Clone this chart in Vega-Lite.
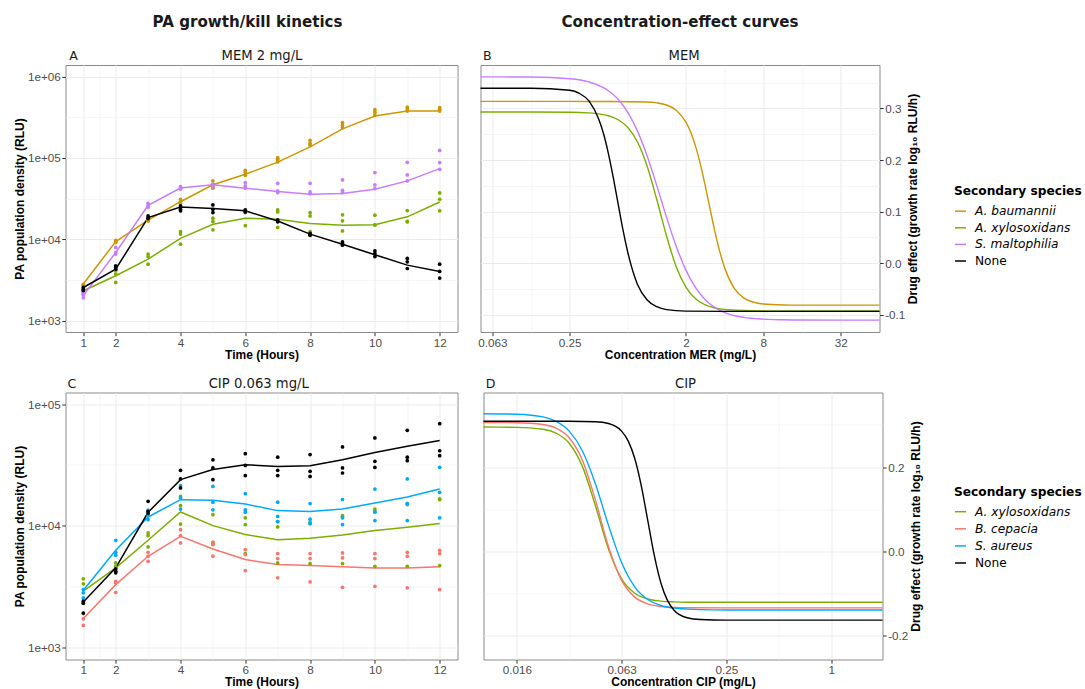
{
"$schema":"https://vega.github.io/schema/vega-lite/v6.json",
"background":"white",
"padding":{"left":12.5,"top":14,"right":0,"bottom":0},
"config":{
 "view":{"stroke":"#8A8A8A","strokeWidth":1},
 "axis":{"domain":false,"labelFont":"Liberation Sans","labelFontSize":11.7,"labelColor":"#4D4D4D","tickColor":"#333333","tickSize":3.7,"labelPadding":1.5,"titleFont":"Liberation Sans","titleFontSize":12,"titleFontWeight":"bold","titleColor":"#000000","gridColor":"#EBEBEB"},
 "title":{"font":"DejaVu Sans","fontSize":15.1,"fontWeight":"bold","color":"#1A1A1A"}
},
"datasets":{
"A_pts":[
{"t":1,"s":"A. baumannii","v":2800},{"t":1,"s":"A. baumannii","v":2690},{"t":1,"s":"A. baumannii","v":2750},
{"t":2,"s":"A. baumannii","v":9680},{"t":2,"s":"A. baumannii","v":9150},{"t":2,"s":"A. baumannii","v":9400},
{"t":3,"s":"A. baumannii","v":17600},{"t":3,"s":"A. baumannii","v":17200},{"t":3,"s":"A. baumannii","v":16800},
{"t":4,"s":"A. baumannii","v":31100},{"t":4,"s":"A. baumannii","v":29100},{"t":4,"s":"A. baumannii","v":27800},
{"t":5,"s":"A. baumannii","v":52300},{"t":5,"s":"A. baumannii","v":47500},{"t":5,"s":"A. baumannii","v":42500},
{"t":6,"s":"A. baumannii","v":70600},{"t":6,"s":"A. baumannii","v":66100},{"t":6,"s":"A. baumannii","v":61200},
{"t":7,"s":"A. baumannii","v":101000},{"t":7,"s":"A. baumannii","v":96400},{"t":7,"s":"A. baumannii","v":89400},
{"t":8,"s":"A. baumannii","v":165000},{"t":8,"s":"A. baumannii","v":151000},{"t":8,"s":"A. baumannii","v":143000},
{"t":9,"s":"A. baumannii","v":272000},{"t":9,"s":"A. baumannii","v":252000},{"t":9,"s":"A. baumannii","v":235000},
{"t":10,"s":"A. baumannii","v":392000},{"t":10,"s":"A. baumannii","v":366000},{"t":10,"s":"A. baumannii","v":337000},
{"t":11,"s":"A. baumannii","v":423000},{"t":11,"s":"A. baumannii","v":403000},{"t":11,"s":"A. baumannii","v":377000},
{"t":12,"s":"A. baumannii","v":415000},{"t":12,"s":"A. baumannii","v":396000},{"t":12,"s":"A. baumannii","v":377000},
{"t":1,"s":"A. xylosoxidans","v":2400},{"t":1,"s":"A. xylosoxidans","v":2270},{"t":1,"s":"A. xylosoxidans","v":2120},
{"t":2,"s":"A. xylosoxidans","v":4100},{"t":2,"s":"A. xylosoxidans","v":3740},{"t":2,"s":"A. xylosoxidans","v":2950},
{"t":3,"s":"A. xylosoxidans","v":6580},{"t":3,"s":"A. xylosoxidans","v":6150},{"t":3,"s":"A. xylosoxidans","v":4950},
{"t":4,"s":"A. xylosoxidans","v":12400},{"t":4,"s":"A. xylosoxidans","v":11600},{"t":4,"s":"A. xylosoxidans","v":8730},
{"t":5,"s":"A. xylosoxidans","v":18200},{"t":5,"s":"A. xylosoxidans","v":16600},{"t":5,"s":"A. xylosoxidans","v":13100},
{"t":6,"s":"A. xylosoxidans","v":22200},{"t":6,"s":"A. xylosoxidans","v":21300},{"t":6,"s":"A. xylosoxidans","v":14700},
{"t":7,"s":"A. xylosoxidans","v":23000},{"t":7,"s":"A. xylosoxidans","v":21700},{"t":7,"s":"A. xylosoxidans","v":14000},
{"t":8,"s":"A. xylosoxidans","v":21300},{"t":8,"s":"A. xylosoxidans","v":19400},{"t":8,"s":"A. xylosoxidans","v":12400},
{"t":9,"s":"A. xylosoxidans","v":20000},{"t":9,"s":"A. xylosoxidans","v":16900},{"t":9,"s":"A. xylosoxidans","v":12700},
{"t":10,"s":"A. xylosoxidans","v":19800},{"t":10,"s":"A. xylosoxidans","v":15100},{"t":10,"s":"A. xylosoxidans","v":15000},
{"t":11,"s":"A. xylosoxidans","v":22600},{"t":11,"s":"A. xylosoxidans","v":16400},{"t":11,"s":"A. xylosoxidans","v":16600},
{"t":12,"s":"A. xylosoxidans","v":37200},{"t":12,"s":"A. xylosoxidans","v":31100},{"t":12,"s":"A. xylosoxidans","v":22400},
{"t":1,"s":"S. maltophilia","v":2230},{"t":1,"s":"S. maltophilia","v":2070},{"t":1,"s":"S. maltophilia","v":1910},
{"t":2,"s":"S. maltophilia","v":7950},{"t":2,"s":"S. maltophilia","v":6890},{"t":2,"s":"S. maltophilia","v":6580},
{"t":3,"s":"S. maltophilia","v":27600},{"t":3,"s":"S. maltophilia","v":25800},{"t":3,"s":"S. maltophilia","v":24800},
{"t":4,"s":"S. maltophilia","v":44500},{"t":4,"s":"S. maltophilia","v":42500},{"t":4,"s":"S. maltophilia","v":41500},
{"t":5,"s":"S. maltophilia","v":47500},{"t":5,"s":"S. maltophilia","v":45300},{"t":5,"s":"S. maltophilia","v":44000},
{"t":6,"s":"S. maltophilia","v":49800},{"t":6,"s":"S. maltophilia","v":45300},{"t":6,"s":"S. maltophilia","v":42500},
{"t":7,"s":"S. maltophilia","v":48900},{"t":7,"s":"S. maltophilia","v":39400},{"t":7,"s":"S. maltophilia","v":37600},
{"t":8,"s":"S. maltophilia","v":48900},{"t":8,"s":"S. maltophilia","v":38200},{"t":8,"s":"S. maltophilia","v":36400},
{"t":9,"s":"S. maltophilia","v":53700},{"t":9,"s":"S. maltophilia","v":40100},{"t":9,"s":"S. maltophilia","v":37600},
{"t":10,"s":"S. maltophilia","v":66100},{"t":10,"s":"S. maltophilia","v":46700},{"t":10,"s":"S. maltophilia","v":42100},
{"t":11,"s":"S. maltophilia","v":88500},{"t":11,"s":"S. maltophilia","v":61800},{"t":11,"s":"S. maltophilia","v":52300},
{"t":12,"s":"S. maltophilia","v":124000},{"t":12,"s":"S. maltophilia","v":87700},{"t":12,"s":"S. maltophilia","v":72600},
{"t":1,"s":"None","v":2560},{"t":1,"s":"None","v":2450},{"t":1,"s":"None","v":2350},
{"t":2,"s":"None","v":4730},{"t":2,"s":"None","v":4510},{"t":2,"s":"None","v":4300},
{"t":3,"s":"None","v":19400},{"t":3,"s":"None","v":18500},{"t":3,"s":"None","v":18000},
{"t":4,"s":"None","v":25800},{"t":4,"s":"None","v":23400},{"t":4,"s":"None","v":22400},
{"t":5,"s":"None","v":26500},{"t":5,"s":"None","v":23400},{"t":5,"s":"None","v":21300},
{"t":6,"s":"None","v":23000},{"t":6,"s":"None","v":21700},{"t":6,"s":"None","v":22500},
{"t":7,"s":"None","v":17300},{"t":7,"s":"None","v":16400},{"t":7,"s":"None","v":16800},
{"t":8,"s":"None","v":11800},{"t":8,"s":"None","v":11200},{"t":8,"s":"None","v":11500},
{"t":9,"s":"None","v":9310},{"t":9,"s":"None","v":8890},{"t":9,"s":"None","v":8480},
{"t":10,"s":"None","v":7230},{"t":10,"s":"None","v":6700},{"t":10,"s":"None","v":6150},
{"t":11,"s":"None","v":5820},{"t":11,"s":"None","v":5300},{"t":11,"s":"None","v":4380},
{"t":12,"s":"None","v":4950},{"t":12,"s":"None","v":4030},{"t":12,"s":"None","v":3340}
],
"A_line":[
{"t":1,"s":"A. baumannii","v":2820},{"t":2,"s":"A. baumannii","v":9400},{"t":3,"s":"A. baumannii","v":17200},{"t":4,"s":"A. baumannii","v":29000},{"t":5,"s":"A. baumannii","v":46800},{"t":6,"s":"A. baumannii","v":63000},{"t":7,"s":"A. baumannii","v":89000},{"t":8,"s":"A. baumannii","v":137000},{"t":9,"s":"A. baumannii","v":228000},{"t":10,"s":"A. baumannii","v":328000},{"t":11,"s":"A. baumannii","v":377000},{"t":12,"s":"A. baumannii","v":377000},
{"t":1,"s":"A. xylosoxidans","v":2330},{"t":2,"s":"A. xylosoxidans","v":3570},{"t":3,"s":"A. xylosoxidans","v":5710},{"t":4,"s":"A. xylosoxidans","v":10300},{"t":5,"s":"A. xylosoxidans","v":15300},{"t":6,"s":"A. xylosoxidans","v":18200},{"t":7,"s":"A. xylosoxidans","v":17700},{"t":8,"s":"A. xylosoxidans","v":15700},{"t":9,"s":"A. xylosoxidans","v":14900},{"t":10,"s":"A. xylosoxidans","v":15100},{"t":11,"s":"A. xylosoxidans","v":18900},{"t":12,"s":"A. xylosoxidans","v":28800},
{"t":1,"s":"S. maltophilia","v":2030},{"t":2,"s":"S. maltophilia","v":6890},{"t":3,"s":"S. maltophilia","v":26200},{"t":4,"s":"S. maltophilia","v":42700},{"t":5,"s":"S. maltophilia","v":46800},{"t":6,"s":"S. maltophilia","v":42500},{"t":7,"s":"S. maltophilia","v":38800},{"t":8,"s":"S. maltophilia","v":35800},{"t":9,"s":"S. maltophilia","v":36700},{"t":10,"s":"S. maltophilia","v":41300},{"t":11,"s":"S. maltophilia","v":52300},{"t":12,"s":"S. maltophilia","v":74000},
{"t":1,"s":"None","v":2560},{"t":2,"s":"None","v":4300},{"t":3,"s":"None","v":18500},{"t":4,"s":"None","v":25000},{"t":5,"s":"None","v":24000},{"t":6,"s":"None","v":22400},{"t":7,"s":"None","v":16800},{"t":8,"s":"None","v":11600},{"t":9,"s":"None","v":8720},{"t":10,"s":"None","v":6450},{"t":11,"s":"None","v":4820},{"t":12,"s":"None","v":4030}
],
"B_crv":[
{"c":0.0506,"s":"A. baumannii","e":0.3135},{"c":0.25,"s":"A. baumannii","e":0.3135},{"c":0.5,"s":"A. baumannii","e":0.3133},{"c":1,"s":"A. baumannii","e":0.3124},{"c":1.1892,"s":"A. baumannii","e":0.3107},{"c":1.4142,"s":"A. baumannii","e":0.3065},{"c":1.6818,"s":"A. baumannii","e":0.2965},{"c":2,"s":"A. baumannii","e":0.2735},{"c":2.181,"s":"A. baumannii","e":0.2537},{"c":2.3784,"s":"A. baumannii","e":0.2265},{"c":2.594,"s":"A. baumannii","e":0.1916},{"c":2.8284,"s":"A. baumannii","e":0.1499},{"c":3.084,"s":"A. baumannii","e":0.105},{"c":3.3636,"s":"A. baumannii","e":0.0612},{"c":3.668,"s":"A. baumannii","e":0.0225},{"c":4,"s":"A. baumannii","e":-0.0085},{"c":4.7568,"s":"A. baumannii","e":-0.0485},{"c":5.6569,"s":"A. baumannii","e":-0.0674},{"c":6.7272,"s":"A. baumannii","e":-0.0754},{"c":8,"s":"A. baumannii","e":-0.0787},{"c":11.314,"s":"A. baumannii","e":-0.0806},{"c":16,"s":"A. baumannii","e":-0.081},{"c":64,"s":"A. baumannii","e":-0.081},
{"c":0.0506,"s":"A. xylosoxidans","e":0.293},{"c":0.25,"s":"A. xylosoxidans","e":0.2926},{"c":0.3536,"s":"A. xylosoxidans","e":0.2913},{"c":0.5,"s":"A. xylosoxidans","e":0.2858},{"c":0.5946,"s":"A. xylosoxidans","e":0.278},{"c":0.7071,"s":"A. xylosoxidans","e":0.263},{"c":0.8409,"s":"A. xylosoxidans","e":0.235},{"c":1,"s":"A. xylosoxidans","e":0.188},{"c":1.1892,"s":"A. xylosoxidans","e":0.123},{"c":1.4142,"s":"A. xylosoxidans","e":0.053},{"c":1.6818,"s":"A. xylosoxidans","e":-0.0065},{"c":2,"s":"A. xylosoxidans","e":-0.046},{"c":2.3784,"s":"A. xylosoxidans","e":-0.0687},{"c":2.8284,"s":"A. xylosoxidans","e":-0.0806},{"c":3.3636,"s":"A. xylosoxidans","e":-0.0865},{"c":4,"s":"A. xylosoxidans","e":-0.0893},{"c":5.6569,"s":"A. xylosoxidans","e":-0.0914},{"c":8,"s":"A. xylosoxidans","e":-0.092},{"c":64,"s":"A. xylosoxidans","e":-0.092},
{"c":0.0506,"s":"S. maltophilia","e":0.361},{"c":0.125,"s":"S. maltophilia","e":0.3607},{"c":0.25,"s":"S. maltophilia","e":0.3575},{"c":0.3536,"s":"S. maltophilia","e":0.3512},{"c":0.5,"s":"S. maltophilia","e":0.3342},{"c":0.5946,"s":"S. maltophilia","e":0.3176},{"c":0.7071,"s":"S. maltophilia","e":0.2923},{"c":0.8409,"s":"S. maltophilia","e":0.2559},{"c":1,"s":"S. maltophilia","e":0.2076},{"c":1.1892,"s":"S. maltophilia","e":0.1499},{"c":1.4142,"s":"S. maltophilia","e":0.089},{"c":1.6818,"s":"S. maltophilia","e":0.0329},{"c":2,"s":"S. maltophilia","e":-0.0132},{"c":2.3784,"s":"S. maltophilia","e":-0.0472},{"c":2.8284,"s":"S. maltophilia","e":-0.0705},{"c":3.3636,"s":"S. maltophilia","e":-0.0857},{"c":4,"s":"S. maltophilia","e":-0.0953},{"c":5.6569,"s":"S. maltophilia","e":-0.1047},{"c":8,"s":"S. maltophilia","e":-0.1081},{"c":11.314,"s":"S. maltophilia","e":-0.1093},{"c":16,"s":"S. maltophilia","e":-0.1098},{"c":64,"s":"S. maltophilia","e":-0.11},
{"c":0.0506,"s":"None","e":0.339},{"c":0.125,"s":"None","e":0.339},{"c":0.25,"s":"None","e":0.335},{"c":0.2973,"s":"None","e":0.329},{"c":0.3536,"s":"None","e":0.314},{"c":0.4204,"s":"None","e":0.279},{"c":0.4585,"s":"None","e":0.2503},{"c":0.5,"s":"None","e":0.212},{"c":0.5453,"s":"None","e":0.1657},{"c":0.5946,"s":"None","e":0.115},{"c":0.6484,"s":"None","e":0.0647},{"c":0.7071,"s":"None","e":0.021},{"c":0.8409,"s":"None","e":-0.041},{"c":1,"s":"None","e":-0.071},{"c":1.1892,"s":"None","e":-0.084},{"c":1.4142,"s":"None","e":-0.0896},{"c":2,"s":"None","e":-0.0926},{"c":4,"s":"None","e":-0.093},{"c":64,"s":"None","e":-0.093}
],
"C_pts":[
{"t":1,"s":"A. xylosoxidans","v":3650},{"t":1,"s":"A. xylosoxidans","v":3320},{"t":1,"s":"A. xylosoxidans","v":2290},
{"t":2,"s":"A. xylosoxidans","v":4930},{"t":2,"s":"A. xylosoxidans","v":4630},{"t":2,"s":"A. xylosoxidans","v":4500},
{"t":3,"s":"A. xylosoxidans","v":8700},{"t":3,"s":"A. xylosoxidans","v":8280},{"t":3,"s":"A. xylosoxidans","v":6680},
{"t":4,"s":"A. xylosoxidans","v":17400},{"t":4,"s":"A. xylosoxidans","v":14600},{"t":4,"s":"A. xylosoxidans","v":10300},
{"t":5,"s":"A. xylosoxidans","v":12300},{"t":5,"s":"A. xylosoxidans","v":7290},{"t":5,"s":"A. xylosoxidans","v":6980},
{"t":6,"s":"A. xylosoxidans","v":11600},{"t":6,"s":"A. xylosoxidans","v":10200},{"t":6,"s":"A. xylosoxidans","v":5890},
{"t":7,"s":"A. xylosoxidans","v":10800},{"t":7,"s":"A. xylosoxidans","v":9750},{"t":7,"s":"A. xylosoxidans","v":4930},
{"t":8,"s":"A. xylosoxidans","v":10700},{"t":8,"s":"A. xylosoxidans","v":10400},{"t":8,"s":"A. xylosoxidans","v":4880},
{"t":9,"s":"A. xylosoxidans","v":12100},{"t":9,"s":"A. xylosoxidans","v":11800},{"t":9,"s":"A. xylosoxidans","v":4880},
{"t":10,"s":"A. xylosoxidans","v":13700},{"t":10,"s":"A. xylosoxidans","v":13100},{"t":10,"s":"A. xylosoxidans","v":4630},
{"t":11,"s":"A. xylosoxidans","v":15200},{"t":11,"s":"A. xylosoxidans","v":14900},{"t":11,"s":"A. xylosoxidans","v":4630},
{"t":12,"s":"A. xylosoxidans","v":16600},{"t":12,"s":"A. xylosoxidans","v":16400},{"t":12,"s":"A. xylosoxidans","v":4690},
{"t":1,"s":"B. cepacia","v":1890},{"t":1,"s":"B. cepacia","v":1710},{"t":1,"s":"B. cepacia","v":1510},
{"t":2,"s":"B. cepacia","v":3480},{"t":2,"s":"B. cepacia","v":3380},{"t":2,"s":"B. cepacia","v":2830},
{"t":3,"s":"B. cepacia","v":6040},{"t":3,"s":"B. cepacia","v":5600},{"t":3,"s":"B. cepacia","v":5090},
{"t":4,"s":"B. cepacia","v":9270},{"t":4,"s":"B. cepacia","v":8280},{"t":4,"s":"B. cepacia","v":7210},
{"t":5,"s":"B. cepacia","v":7290},{"t":5,"s":"B. cepacia","v":7110},{"t":5,"s":"B. cepacia","v":5600},
{"t":6,"s":"B. cepacia","v":6350},{"t":6,"s":"B. cepacia","v":5780},{"t":6,"s":"B. cepacia","v":4270},
{"t":7,"s":"B. cepacia","v":5890},{"t":7,"s":"B. cepacia","v":5360},{"t":7,"s":"B. cepacia","v":3720},
{"t":8,"s":"B. cepacia","v":5890},{"t":8,"s":"B. cepacia","v":5360},{"t":8,"s":"B. cepacia","v":3440},
{"t":9,"s":"B. cepacia","v":5960},{"t":9,"s":"B. cepacia","v":5420},{"t":9,"s":"B. cepacia","v":3110},
{"t":10,"s":"B. cepacia","v":5890},{"t":10,"s":"B. cepacia","v":5360},{"t":10,"s":"B. cepacia","v":3170},
{"t":11,"s":"B. cepacia","v":6040},{"t":11,"s":"B. cepacia","v":5600},{"t":11,"s":"B. cepacia","v":3080},
{"t":12,"s":"B. cepacia","v":6270},{"t":12,"s":"B. cepacia","v":5890},{"t":12,"s":"B. cepacia","v":2980},
{"t":1,"s":"S. aureus","v":2980},{"t":1,"s":"S. aureus","v":2800},{"t":1,"s":"S. aureus","v":2540},
{"t":2,"s":"S. aureus","v":7570},{"t":2,"s":"S. aureus","v":6040},{"t":2,"s":"S. aureus","v":5710},
{"t":3,"s":"S. aureus","v":13400},{"t":3,"s":"S. aureus","v":12300},{"t":3,"s":"S. aureus","v":11200},
{"t":4,"s":"S. aureus","v":21300},{"t":4,"s":"S. aureus","v":16900},{"t":4,"s":"S. aureus","v":13700},
{"t":5,"s":"S. aureus","v":21000},{"t":5,"s":"S. aureus","v":15600},{"t":5,"s":"S. aureus","v":13500},
{"t":6,"s":"S. aureus","v":18300},{"t":6,"s":"S. aureus","v":13500},{"t":6,"s":"S. aureus","v":12900},
{"t":7,"s":"S. aureus","v":15600},{"t":7,"s":"S. aureus","v":11900},{"t":7,"s":"S. aureus","v":10800},
{"t":8,"s":"S. aureus","v":15200},{"t":8,"s":"S. aureus","v":11300},{"t":8,"s":"S. aureus","v":10400},
{"t":9,"s":"S. aureus","v":16400},{"t":9,"s":"S. aureus","v":11600},{"t":9,"s":"S. aureus","v":10200},
{"t":10,"s":"S. aureus","v":20000},{"t":10,"s":"S. aureus","v":12900},{"t":10,"s":"S. aureus","v":11000},
{"t":11,"s":"S. aureus","v":24200},{"t":11,"s":"S. aureus","v":15200},{"t":11,"s":"S. aureus","v":11000},
{"t":12,"s":"S. aureus","v":30200},{"t":12,"s":"S. aureus","v":18800},{"t":12,"s":"S. aureus","v":11600},
{"t":1,"s":"None","v":2390},{"t":1,"s":"None","v":1910},{"t":1,"s":"None","v":2300},
{"t":2,"s":"None","v":4220},{"t":2,"s":"None","v":4090},{"t":2,"s":"None","v":4400},
{"t":3,"s":"None","v":15850},{"t":3,"s":"None","v":13100},{"t":3,"s":"None","v":12700},
{"t":4,"s":"None","v":28500},{"t":4,"s":"None","v":24200},{"t":4,"s":"None","v":20400},
{"t":5,"s":"None","v":34800},{"t":5,"s":"None","v":29800},{"t":5,"s":"None","v":23900},
{"t":6,"s":"None","v":39100},{"t":6,"s":"None","v":31300},{"t":6,"s":"None","v":25800},
{"t":7,"s":"None","v":36600},{"t":7,"s":"None","v":28500},{"t":7,"s":"None","v":25800},
{"t":8,"s":"None","v":38400},{"t":8,"s":"None","v":28000},{"t":8,"s":"None","v":25400},
{"t":9,"s":"None","v":44400},{"t":9,"s":"None","v":29800},{"t":9,"s":"None","v":27100},
{"t":10,"s":"None","v":52600},{"t":10,"s":"None","v":33800},{"t":10,"s":"None","v":30100},
{"t":11,"s":"None","v":60800},{"t":11,"s":"None","v":36600},{"t":11,"s":"None","v":34200},
{"t":12,"s":"None","v":68900},{"t":12,"s":"None","v":41300},{"t":12,"s":"None","v":37600}
],
"C_line":[
{"t":1,"s":"A. xylosoxidans","v":2890},{"t":2,"s":"A. xylosoxidans","v":4490},{"t":3,"s":"A. xylosoxidans","v":7580},{"t":4,"s":"A. xylosoxidans","v":12950},{"t":5,"s":"A. xylosoxidans","v":10000},{"t":6,"s":"A. xylosoxidans","v":8440},{"t":7,"s":"A. xylosoxidans","v":7670},{"t":8,"s":"A. xylosoxidans","v":7870},{"t":9,"s":"A. xylosoxidans","v":8380},{"t":10,"s":"A. xylosoxidans","v":9100},{"t":11,"s":"A. xylosoxidans","v":9690},{"t":12,"s":"A. xylosoxidans","v":10400},
{"t":1,"s":"B. cepacia","v":1720},{"t":2,"s":"B. cepacia","v":3270},{"t":3,"s":"B. cepacia","v":5600},{"t":4,"s":"B. cepacia","v":8170},{"t":5,"s":"B. cepacia","v":6430},{"t":6,"s":"B. cepacia","v":5260},{"t":7,"s":"B. cepacia","v":4780},{"t":8,"s":"B. cepacia","v":4690},{"t":9,"s":"B. cepacia","v":4580},{"t":10,"s":"B. cepacia","v":4490},{"t":11,"s":"B. cepacia","v":4490},{"t":12,"s":"B. cepacia","v":4580},
{"t":1,"s":"S. aureus","v":2940},{"t":2,"s":"S. aureus","v":6270},{"t":3,"s":"S. aureus","v":11780},{"t":4,"s":"S. aureus","v":16350},{"t":5,"s":"S. aureus","v":16150},{"t":6,"s":"S. aureus","v":15060},{"t":7,"s":"S. aureus","v":13290},{"t":8,"s":"S. aureus","v":13040},{"t":9,"s":"S. aureus","v":13700},{"t":10,"s":"S. aureus","v":15350},{"t":11,"s":"S. aureus","v":17200},{"t":12,"s":"S. aureus","v":20000},
{"t":1,"s":"None","v":2350},{"t":2,"s":"None","v":4500},{"t":3,"s":"None","v":12870},{"t":4,"s":"None","v":23900},{"t":5,"s":"None","v":28900},{"t":6,"s":"None","v":31700},{"t":7,"s":"None","v":30700},{"t":8,"s":"None","v":31100},{"t":9,"s":"None","v":34900},{"t":10,"s":"None","v":40000},{"t":11,"s":"None","v":44900},{"t":12,"s":"None","v":50200}
],
"D_crv":[
{"c":0.01006,"s":"A. xylosoxidans","e":0.295},{"c":0.015625,"s":"A. xylosoxidans","e":0.2943},{"c":0.0221,"s":"A. xylosoxidans","e":0.2898},{"c":0.02628,"s":"A. xylosoxidans","e":0.2806},{"c":0.03125,"s":"A. xylosoxidans","e":0.2566},{"c":0.03716,"s":"A. xylosoxidans","e":0.2021},{"c":0.04419,"s":"A. xylosoxidans","e":0.1083},{"c":0.05256,"s":"A. xylosoxidans","e":0.0048},{"c":0.0625,"s":"A. xylosoxidans","e":-0.0661},{"c":0.07433,"s":"A. xylosoxidans","e":-0.1001},{"c":0.08839,"s":"A. xylosoxidans","e":-0.1138},{"c":0.10511,"s":"A. xylosoxidans","e":-0.1188},{"c":0.125,"s":"A. xylosoxidans","e":-0.1207},{"c":0.14865,"s":"A. xylosoxidans","e":-0.1214},{"c":0.25,"s":"A. xylosoxidans","e":-0.1216},{"c":1.971,"s":"A. xylosoxidans","e":-0.1216},
{"c":0.01006,"s":"B. cepacia","e":0.306},{"c":0.015625,"s":"B. cepacia","e":0.3054},{"c":0.0221,"s":"B. cepacia","e":0.3011},{"c":0.02628,"s":"B. cepacia","e":0.2925},{"c":0.03125,"s":"B. cepacia","e":0.2697},{"c":0.03716,"s":"B. cepacia","e":0.2168},{"c":0.04419,"s":"B. cepacia","e":0.1218},{"c":0.05256,"s":"B. cepacia","e":0.0106},{"c":0.0625,"s":"B. cepacia","e":-0.0696},{"c":0.07433,"s":"B. cepacia","e":-0.1094},{"c":0.08839,"s":"B. cepacia","e":-0.1256},{"c":0.10511,"s":"B. cepacia","e":-0.1316},{"c":0.125,"s":"B. cepacia","e":-0.1338},{"c":0.14865,"s":"B. cepacia","e":-0.1345},{"c":0.25,"s":"B. cepacia","e":-0.135},{"c":1.971,"s":"B. cepacia","e":-0.135},
{"c":0.01006,"s":"S. aureus","e":0.3268},{"c":0.015625,"s":"S. aureus","e":0.3256},{"c":0.0221,"s":"S. aureus","e":0.3191},{"c":0.02628,"s":"S. aureus","e":0.3085},{"c":0.03125,"s":"S. aureus","e":0.2853},{"c":0.03716,"s":"S. aureus","e":0.2387},{"c":0.04419,"s":"S. aureus","e":0.1604},{"c":0.05256,"s":"S. aureus","e":0.0613},{"c":0.0625,"s":"S. aureus","e":-0.0271},{"c":0.07433,"s":"S. aureus","e":-0.0848},{"c":0.08839,"s":"S. aureus","e":-0.1151},{"c":0.10511,"s":"S. aureus","e":-0.1292},{"c":0.125,"s":"S. aureus","e":-0.1354},{"c":0.14865,"s":"S. aureus","e":-0.138},{"c":0.17678,"s":"S. aureus","e":-0.1392},{"c":0.25,"s":"S. aureus","e":-0.1399},{"c":1.971,"s":"S. aureus","e":-0.14},
{"c":0.01006,"s":"None","e":0.309},{"c":0.03125,"s":"None","e":0.309},{"c":0.04419,"s":"None","e":0.3077},{"c":0.05256,"s":"None","e":0.3034},{"c":0.0625,"s":"None","e":0.2854},{"c":0.06815,"s":"None","e":0.2622},{"c":0.07433,"s":"None","e":0.2208},{"c":0.08105,"s":"None","e":0.1559},{"c":0.08839,"s":"None","e":0.0725},{"c":0.09639,"s":"None","e":-0.0109},{"c":0.10511,"s":"None","e":-0.0758},{"c":0.11463,"s":"None","e":-0.1172},{"c":0.125,"s":"None","e":-0.1404},{"c":0.14865,"s":"None","e":-0.1584},{"c":0.17678,"s":"None","e":-0.1627},{"c":0.25,"s":"None","e":-0.164},{"c":1.971,"s":"None","e":-0.164}
]
},
"vconcat":[
{"hconcat":[
 {"width":392,"height":267,
  "title":{"text":"PA growth/kill kinetics","frame":"group","anchor":"middle","dx":-14,"offset":18},
  "layer":[
   {"data":{"name":"A_line"},"mark":{"type":"line","strokeWidth":1.5},
    "encoding":{
     "x":{"field":"t","type":"quantitative","scale":{"domain":[0.45,12.55],"nice":false,"zero":false},
      "axis":{"orient":"bottom","title":"Time (Hours)","values":[1,1.5,2,3,4,5,6,7,8,9,10,11,12],"labelExpr":"(datum.value==1||datum.value%2==0)?''+datum.value:''","tickOpacity":{"condition":{"test":"datum.value==1||datum.value%2==0","value":1},"value":0},"gridWidth":{"condition":{"test":"datum.value==1||datum.value%2==0","value":1},"value":0.5},"titlePadding":0.5,"labelFlush":false,"labelOverlap":false}},
     "y":{"field":"v","type":"quantitative","scale":{"type":"log","domain":[726,1390000],"nice":false},
      "axis":{"title":"PA population density (RLU)","values":[1000,3162.2777,10000,31622.777,100000,316227.77,1000000],"labelExpr":"abs(log(datum.value)/LN10-round(log(datum.value)/LN10))<0.01?'1e+0'+round(log(datum.value)/LN10):''","tickOpacity":{"condition":{"test":"abs(log(datum.value)/LN10-round(log(datum.value)/LN10))<0.01","value":1},"value":0},"gridWidth":{"condition":{"test":"abs(log(datum.value)/LN10-round(log(datum.value)/LN10))<0.01","value":1},"value":0.5},"titlePadding":1,"labelOverlap":false}},
     "color":{"field":"s","type":"nominal","scale":{"domain":["A. baumannii","A. xylosoxidans","S. maltophilia","None"],"range":["#CD9600","#7CAE00","#C77CFF","#000000"]},
      "legend":{"title":"Secondary species","orient":"none","legendX":888.5,"legendY":120,"titleFont":"DejaVu Sans","titleFontSize":12.2,"titleFontWeight":"bold","titleColor":"#000000","titlePadding":7.5,"labelFont":"DejaVu Sans","labelFontSize":12.2,"labelColor":"#000000","symbolType":"stroke","symbolSize":121,"symbolStrokeWidth":1.5,"labelOffset":8,"rowPadding":3.6,"encode":{"labels":{"update":{"fontStyle":{"signal":"datum.value == 'None' ? 'normal' : 'italic'"}}}}}}
    }},
   {"data":{"name":"A_pts"},"mark":{"type":"circle","size":14,"opacity":1},
    "encoding":{
     "x":{"field":"t","type":"quantitative",
      "axis":{"orient":"top","values":[0.553,6.5],"labelExpr":"datum.value<1?'A':'MEM 2 mg/L'","labelAlign":{"condition":{"test":"datum.value<1","value":"left"},"value":"center"},"labelFontSize":{"condition":{"test":"datum.value<1","value":12.6},"value":13.2},"labelFont":"DejaVu Sans","labelColor":"#1A1A1A","labelPadding":6,"labelBaseline":"alphabetic","ticks":false,"tickSize":0,"grid":false,"domain":false,"title":null,"labelFlush":false,"labelOverlap":false,"labelBound":false}},
     "y":{"field":"v","type":"quantitative",
      "axis":{"title":"PA population density (RLU)","values":[1000,3162.2777,10000,31622.777,100000,316227.77,1000000],"labelExpr":"abs(log(datum.value)/LN10-round(log(datum.value)/LN10))<0.01?'1e+0'+round(log(datum.value)/LN10):''","tickOpacity":{"condition":{"test":"abs(log(datum.value)/LN10-round(log(datum.value)/LN10))<0.01","value":1},"value":0},"gridWidth":{"condition":{"test":"abs(log(datum.value)/LN10-round(log(datum.value)/LN10))<0.01","value":1},"value":0.5},"titlePadding":1,"labelOverlap":false}},
     "color":{"field":"s","type":"nominal","scale":{"domain":["A. baumannii","A. xylosoxidans","S. maltophilia","None"],"range":["#CD9600","#7CAE00","#C77CFF","#000000"]},
      "legend":{"title":"Secondary species","orient":"none","legendX":888.5,"legendY":120,"titleFont":"DejaVu Sans","titleFontSize":12.2,"titleFontWeight":"bold","titleColor":"#000000","titlePadding":7.5,"labelFont":"DejaVu Sans","labelFontSize":12.2,"labelColor":"#000000","symbolType":"stroke","symbolSize":121,"symbolStrokeWidth":1.5,"labelOffset":8,"rowPadding":3.6,"encode":{"labels":{"update":{"fontStyle":{"signal":"datum.value == 'None' ? 'normal' : 'italic'"}}}}}}
    }}
  ],
  "resolve":{"axis":{"x":"independent"}}
 },
 {"width":399,"height":267,
  "title":{"text":"Concentration-effect curves","frame":"group","anchor":"middle","offset":18},
  "layer":[
   {"data":{"name":"B_crv"},"mark":{"type":"line","strokeWidth":1.4,"interpolate":"monotone"},
    "encoding":{
     "x":{"field":"c","type":"quantitative","scale":{"type":"log","base":2,"domain":[0.0506,64],"nice":false},
      "axis":{"orient":"bottom","title":"Concentration MER (mg/L)","values":[0.0625,0.125,0.25,0.70710678,2,4,8,16,32],"labelExpr":"datum.value==0.0625?'0.063':(datum.value==0.25||datum.value==2||datum.value==8||datum.value==32)?''+datum.value:''","tickOpacity":{"condition":{"test":"datum.value==0.0625||datum.value==0.25||datum.value==2||datum.value==8||datum.value==32","value":1},"value":0},"gridWidth":{"condition":{"test":"datum.value==0.0625||datum.value==0.25||datum.value==2||datum.value==8||datum.value==32","value":1},"value":0.5},"titlePadding":0.5,"labelFlush":false,"labelOverlap":false}},
     "y":{"field":"e","type":"quantitative","scale":{"domain":[-0.133,0.384],"nice":false,"zero":false},
      "axis":{"orient":"right","title":"Drug effect (growth rate log₁₀ RLU/h)","titleAngle":270,"titleBaseline":"top","values":[-0.1,-0.05,0,0.05,0.1,0.15,0.2,0.25,0.3,0.35],"labelExpr":"abs(datum.value*10-round(datum.value*10))<0.001?replace(format(datum.value,'.1f'),'−','-'):''","tickOpacity":{"condition":{"test":"abs(datum.value*10-round(datum.value*10))<0.001","value":1},"value":0},"gridWidth":{"condition":{"test":"abs(datum.value*10-round(datum.value*10))<0.001","value":1},"value":0.5},"titlePadding":3,"labelOverlap":false}},
     "color":{"field":"s","type":"nominal","scale":{"domain":["A. baumannii","A. xylosoxidans","S. maltophilia","None"],"range":["#CD9600","#7CAE00","#C77CFF","#000000"]},
      "legend":{"title":"Secondary species","orient":"none","legendX":888.5,"legendY":120,"titleFont":"DejaVu Sans","titleFontSize":12.2,"titleFontWeight":"bold","titleColor":"#000000","titlePadding":7.5,"labelFont":"DejaVu Sans","labelFontSize":12.2,"labelColor":"#000000","symbolType":"stroke","symbolSize":121,"symbolStrokeWidth":1.5,"labelOffset":8,"rowPadding":3.6,"encode":{"labels":{"update":{"fontStyle":{"signal":"datum.value == 'None' ? 'normal' : 'italic'"}}}}}}
    }},
   {"data":{"name":"B_crv"},"mark":{"type":"point","opacity":0},
    "encoding":{
     "x":{"field":"c","type":"quantitative",
      "axis":{"orient":"top","values":[0.0525,1.92],"labelExpr":"datum.value<0.1?'B':'MEM'","labelAlign":{"condition":{"test":"datum.value<0.1","value":"left"},"value":"center"},"labelFontSize":{"condition":{"test":"datum.value<0.1","value":12.6},"value":13.2},"labelFont":"DejaVu Sans","labelColor":"#1A1A1A","labelPadding":6,"labelBaseline":"alphabetic","ticks":false,"tickSize":0,"grid":false,"domain":false,"title":null,"labelFlush":false,"labelOverlap":false,"labelBound":false}}
    }}
  ],
  "resolve":{"axis":{"x":"independent"}}
 }
],"spacing":18},
{"hconcat":[
 {"width":392,"height":267,
  "layer":[
   {"data":{"name":"C_line"},"mark":{"type":"line","strokeWidth":1.5},
    "encoding":{
     "x":{"field":"t","type":"quantitative","scale":{"domain":[0.45,12.55],"nice":false,"zero":false},
      "axis":{"orient":"bottom","title":"Time (Hours)","values":[1,1.5,2,3,4,5,6,7,8,9,10,11,12],"labelExpr":"(datum.value==1||datum.value%2==0)?''+datum.value:''","tickOpacity":{"condition":{"test":"datum.value==1||datum.value%2==0","value":1},"value":0},"gridWidth":{"condition":{"test":"datum.value==1||datum.value%2==0","value":1},"value":0.5},"titlePadding":0.5,"labelFlush":false,"labelOverlap":false}},
     "y":{"field":"v","type":"quantitative","scale":{"type":"log","domain":[792,124500],"nice":false},
      "axis":{"title":"PA population density (RLU)","values":[1000,3162.2777,10000,31622.777,100000],"labelExpr":"abs(log(datum.value)/LN10-round(log(datum.value)/LN10))<0.01?'1e+0'+round(log(datum.value)/LN10):''","tickOpacity":{"condition":{"test":"abs(log(datum.value)/LN10-round(log(datum.value)/LN10))<0.01","value":1},"value":0},"gridWidth":{"condition":{"test":"abs(log(datum.value)/LN10-round(log(datum.value)/LN10))<0.01","value":1},"value":0.5},"titlePadding":1,"labelOverlap":false}},
     "color":{"field":"s","type":"nominal","scale":{"domain":["A. xylosoxidans","B. cepacia","S. aureus","None"],"range":["#7CAE00","#F8766D","#00A9FF","#000000"]},
      "legend":{"title":"Secondary species","orient":"none","legendX":888.5,"legendY":93,"titleFont":"DejaVu Sans","titleFontSize":12.2,"titleFontWeight":"bold","titleColor":"#000000","titlePadding":7.5,"labelFont":"DejaVu Sans","labelFontSize":12.2,"labelColor":"#000000","symbolType":"stroke","symbolSize":121,"symbolStrokeWidth":1.5,"labelOffset":8,"rowPadding":4.1,"encode":{"labels":{"update":{"fontStyle":{"signal":"datum.value == 'None' ? 'normal' : 'italic'"}}}}}}
    }},
   {"data":{"name":"C_pts"},"mark":{"type":"circle","size":14,"opacity":1},
    "encoding":{
     "x":{"field":"t","type":"quantitative",
      "axis":{"orient":"top","values":[0.5,6.4],"labelExpr":"datum.value<1?'C':'CIP 0.063 mg/L'","labelAlign":{"condition":{"test":"datum.value<1","value":"left"},"value":"center"},"labelFontSize":{"condition":{"test":"datum.value<1","value":12.6},"value":13.2},"labelFont":"DejaVu Sans","labelColor":"#1A1A1A","labelPadding":5,"labelBaseline":"alphabetic","ticks":false,"tickSize":0,"grid":false,"domain":false,"title":null,"labelFlush":false,"labelOverlap":false,"labelBound":false}},
     "y":{"field":"v","type":"quantitative",
      "axis":{"title":"PA population density (RLU)","values":[1000,3162.2777,10000,31622.777,100000],"labelExpr":"abs(log(datum.value)/LN10-round(log(datum.value)/LN10))<0.01?'1e+0'+round(log(datum.value)/LN10):''","tickOpacity":{"condition":{"test":"abs(log(datum.value)/LN10-round(log(datum.value)/LN10))<0.01","value":1},"value":0},"gridWidth":{"condition":{"test":"abs(log(datum.value)/LN10-round(log(datum.value)/LN10))<0.01","value":1},"value":0.5},"titlePadding":1,"labelOverlap":false}},
     "color":{"field":"s","type":"nominal","scale":{"domain":["A. xylosoxidans","B. cepacia","S. aureus","None"],"range":["#7CAE00","#F8766D","#00A9FF","#000000"]},
      "legend":{"title":"Secondary species","orient":"none","legendX":888.5,"legendY":93,"titleFont":"DejaVu Sans","titleFontSize":12.2,"titleFontWeight":"bold","titleColor":"#000000","titlePadding":7.5,"labelFont":"DejaVu Sans","labelFontSize":12.2,"labelColor":"#000000","symbolType":"stroke","symbolSize":121,"symbolStrokeWidth":1.5,"labelOffset":8,"rowPadding":4.1,"encode":{"labels":{"update":{"fontStyle":{"signal":"datum.value == 'None' ? 'normal' : 'italic'"}}}}}}
    }}
  ],
  "resolve":{"axis":{"x":"independent"}}
 },
 {"width":399,"height":267,
  "layer":[
   {"data":{"name":"D_crv"},"mark":{"type":"line","strokeWidth":1.4,"interpolate":"monotone"},
    "encoding":{
     "x":{"field":"c","type":"quantitative","scale":{"type":"log","base":2,"domain":[0.01006,1.971],"nice":false},
      "axis":{"orient":"bottom","title":"Concentration CIP (mg/L)","values":[0.015625,0.03125,0.0625,0.125,0.25,0.5,1],"labelExpr":"datum.value==0.015625?'0.016':datum.value==0.0625?'0.063':datum.value==0.25?'0.25':datum.value==1?'1':''","tickOpacity":{"condition":{"test":"round(abs(log(datum.value)/LN2))%2==0","value":1},"value":0},"gridWidth":{"condition":{"test":"round(abs(log(datum.value)/LN2))%2==0","value":1},"value":0.5},"titlePadding":0.5,"labelFlush":false,"labelOverlap":false}},
     "y":{"field":"e","type":"quantitative","scale":{"domain":[-0.2577,0.3772],"nice":false,"zero":false},
      "axis":{"orient":"right","title":"Drug effect (growth rate log₁₀ RLU/h)","titleAngle":270,"titleBaseline":"top","values":[-0.2,-0.1,0,0.1,0.2,0.3],"labelExpr":"round(datum.value*10)%2==0?replace(format(datum.value,'.1f'),'−','-'):''","tickOpacity":{"condition":{"test":"round(datum.value*10)%2==0","value":1},"value":0},"gridWidth":{"condition":{"test":"round(datum.value*10)%2==0","value":1},"value":0.5},"titlePadding":3,"labelOverlap":false}},
     "color":{"field":"s","type":"nominal","scale":{"domain":["A. xylosoxidans","B. cepacia","S. aureus","None"],"range":["#7CAE00","#F8766D","#00A9FF","#000000"]},
      "legend":{"title":"Secondary species","orient":"none","legendX":888.5,"legendY":93,"titleFont":"DejaVu Sans","titleFontSize":12.2,"titleFontWeight":"bold","titleColor":"#000000","titlePadding":7.5,"labelFont":"DejaVu Sans","labelFontSize":12.2,"labelColor":"#000000","symbolType":"stroke","symbolSize":121,"symbolStrokeWidth":1.5,"labelOffset":8,"rowPadding":4.1,"encode":{"labels":{"update":{"fontStyle":{"signal":"datum.value == 'None' ? 'normal' : 'italic'"}}}}}}
    }},
   {"data":{"name":"D_crv"},"mark":{"type":"point","opacity":0},
    "encoding":{
     "x":{"field":"c","type":"quantitative",
      "axis":{"orient":"top","values":[0.0103,0.1446],"labelExpr":"datum.value<0.011?'D':'CIP'","labelAlign":{"condition":{"test":"datum.value<0.011","value":"left"},"value":"center"},"labelFontSize":{"condition":{"test":"datum.value<0.011","value":12.6},"value":13.2},"labelFont":"DejaVu Sans","labelColor":"#1A1A1A","labelPadding":5,"labelBaseline":"alphabetic","ticks":false,"tickSize":0,"grid":false,"domain":false,"title":null,"labelFlush":false,"labelOverlap":false,"labelBound":false}}
    }}
  ],
  "resolve":{"axis":{"x":"independent"}}
 }
],"spacing":21}
],
"spacing":14.5,
"resolve":{"scale":{"color":"independent"}}
}
